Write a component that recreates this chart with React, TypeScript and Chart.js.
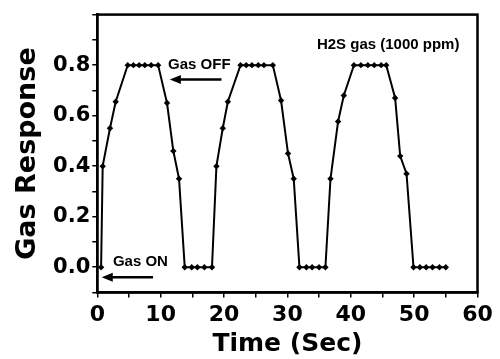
import React, { useEffect, useRef } from "react";
import { Chart, registerables } from "chart.js";

Chart.register(...registerables);

// Time (s) of each measured point
const times: number[] = [
  0.6, 0.85, 2.0, 2.9, 4.8, 5.7, 6.6, 7.5, 8.5, 9.6,
  11.0, 12.0, 12.9, 13.8, 14.9, 15.8, 16.9, 18.1,
  18.8, 19.8, 20.6, 22.6, 23.5, 24.4, 25.4, 26.3, 27.7,
  29.0, 30.1, 31.0, 31.9, 33.0, 33.9, 35.0, 36.0,
  36.8, 38.0, 38.9, 40.5, 41.6, 42.7, 43.7, 44.8, 45.6,
  47.0, 47.8, 48.8, 49.9, 50.9, 51.9, 52.9, 54.0, 55.0,
];
// Gas response at each time
const response: number[] = [
  0.0, 0.4, 0.55, 0.655, 0.8, 0.8, 0.8, 0.8, 0.8, 0.8,
  0.65, 0.46, 0.35, 0.0, 0.0, 0.0, 0.0, 0.0,
  0.4, 0.55, 0.655, 0.8, 0.8, 0.8, 0.8, 0.8, 0.8,
  0.66, 0.45, 0.35, 0.0, 0.0, 0.0, 0.0, 0.0,
  0.35, 0.577, 0.68, 0.8, 0.8, 0.8, 0.8, 0.8, 0.8,
  0.67, 0.44, 0.37, 0.0, 0.0, 0.0, 0.0, 0.0, 0.0,
];
const yTickLabels: number[] = [0.0, 0.2, 0.4, 0.6, 0.8];
const xTickLabels: number[] = [0, 10, 20, 30, 40, 50, 60];

// Annotations (in data units)
const annoTexts: string[] = ["Gas OFF", "Gas ON", "H2S gas (1000 ppm)"];
const annoX: number[] = [16.1, 6.8, 45.9];
const annoY: number[] = [0.8, 0.02, 0.88];
const arrowFromX: number[] = [19.6, 8.8];
const arrowToX: number[] = [11.45, 0.7];
const arrowY: number[] = [0.743, -0.04];

const BOLD = "'DejaVu Sans', sans-serif";
const ARIAL = "'Liberation Sans', Arial, sans-serif";

const framePlugin = {
  id: "frameAndNotes",
  afterDatasetsDraw(chart: any) {
    const { ctx, chartArea, scales } = chart;
    const xs = scales.x;
    const ys = scales.y;
    ctx.save();
    ctx.strokeStyle = "#000";
    ctx.lineWidth = 2.5;
    ctx.strokeRect(
      chartArea.left,
      chartArea.top,
      chartArea.right - chartArea.left,
      chartArea.bottom - chartArea.top
    );
    // texts
    ctx.fillStyle = "#000";
    ctx.textAlign = "center";
    ctx.textBaseline = "middle";
    ctx.font = `bold 15px ${ARIAL}`;
    annoTexts.forEach((t, i) => {
      ctx.fillText(t, xs.getPixelForValue(annoX[i]), ys.getPixelForValue(annoY[i]));
    });
    // arrows
    ctx.lineWidth = 2.5;
    arrowFromX.forEach((fx, i) => {
      const x1 = xs.getPixelForValue(fx);
      const x2 = xs.getPixelForValue(arrowToX[i]);
      const y = ys.getPixelForValue(arrowY[i]);
      ctx.beginPath();
      ctx.moveTo(x1, y);
      ctx.lineTo(x2 + 8, y);
      ctx.stroke();
      ctx.beginPath();
      ctx.moveTo(x2, y);
      ctx.lineTo(x2 + 11, y - 4.5);
      ctx.lineTo(x2 + 11, y + 4.5);
      ctx.closePath();
      ctx.fill();
    });
    ctx.restore();
  },
};

export default function App() {
  const ref = useRef<HTMLCanvasElement | null>(null);
  useEffect(() => {
    if (!ref.current) return;
    const chart = new Chart(ref.current, {
      type: "line",
      data: {
        datasets: [
          {
            data: times.map((t, i) => ({ x: t, y: response[i] })),
            borderColor: "#000",
            backgroundColor: "#000",
            borderWidth: 2,
            pointStyle: "rectRot",
            pointRadius: 3.2,
            pointBackgroundColor: "#000",
            pointBorderColor: "#000",
            pointBorderWidth: 0,
            tension: 0,
          },
        ],
      },
      options: {
        animation: false,
        responsive: false,
        devicePixelRatio: 1,
        layout: { padding: { top: 11.7, right: 22.5, left: 0, bottom: 0 } },
        plugins: { legend: { display: false }, tooltip: { enabled: false } },
        scales: {
          x: {
            type: "linear",
            min: 0,
            max: 60,
            afterFit: (s: any) => {
              s.height = 66.5;
            },
            border: { display: true, color: "#000", width: 2.5 },
            grid: {
              display: true,
              drawOnChartArea: false,
              drawTicks: true,
              tickLength: 5,
              color: "#000",
              lineWidth: 1.5,
            },
            ticks: {
              stepSize: 5,
              autoSkip: false,
              maxRotation: 0,
              padding: 5,
              color: "#000",
              font: { family: BOLD, weight: "bold", size: 22 },
              callback: (v: any) => {
                const n = Math.round(Number(v));
                return xTickLabels.includes(n) && Math.abs(Number(v) - n) < 1e-6 ? String(n) : "";
              },
            },
            title: {
              display: true,
              text: "Time (Sec)",
              color: "#000",
              font: { family: BOLD, weight: "bold", size: 25 },
              padding: { top: 0, bottom: 0 },
            },
          },
          y: {
            min: -0.1,
            max: 1.0,
            afterFit: (s: any) => {
              s.width = 97.3;
            },
            border: { display: true, color: "#000", width: 2.5 },
            grid: {
              display: true,
              drawOnChartArea: false,
              drawTicks: true,
              tickLength: 5,
              color: "#000",
              lineWidth: 1.5,
            },
            ticks: {
              stepSize: 0.1,
              autoSkip: false,
              padding: 2,
              color: "#000",
              font: { family: BOLD, weight: "bold", size: 21 },
              callback: (v: any) => {
                const n = Math.round(Number(v) * 10) / 10;
                return yTickLabels.some((l) => Math.abs(l - n) < 1e-6) ? n.toFixed(1) : "";
              },
            },
            title: {
              display: true,
              text: "Gas Response",
              color: "#000",
              font: { family: BOLD, weight: "bold", size: 27 },
              padding: { top: 12, bottom: 0 },
            },
          },
        },
      },
      plugins: [framePlugin],
    } as any);
    return () => chart.destroy();
  }, []);
  return (
    <div style={{ position: "fixed", left: 0, top: 0, width: 500, height: 359, background: "#fff" }}>
      <canvas ref={ref} width={500} height={359} style={{ display: "block" }} />
    </div>
  );
}
